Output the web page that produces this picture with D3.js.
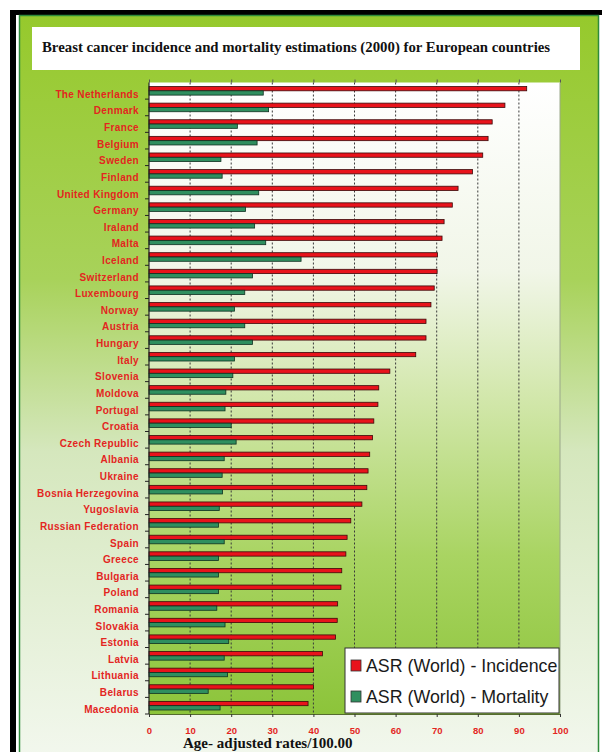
<!DOCTYPE html>
<html><head><meta charset="utf-8">
<script src="https://cdn.jsdelivr.net/npm/d3@7"></script>
<style>html,body{margin:0;padding:0;background:#fff;}svg{display:block;}</style>
</head><body>
<script>
const countries = ["The Netherlands","Denmark","France","Belgium","Sweden","Finland","United Kingdom","Germany","Iraland","Malta","Iceland","Switzerland","Luxembourg","Norway","Austria","Hungary","Italy","Slovenia","Moldova","Portugal","Croatia","Czech Republic","Albania","Ukraine","Bosnia Herzegovina","Yugoslavia","Russian Federation","Spain","Greece","Bulgaria","Poland","Romania","Slovakia","Estonia","Latvia","Lithuania","Belarus","Macedonia"];
const incidence = [91.9,86.6,83.5,82.5,81.2,78.7,75.2,73.8,71.8,71.3,70.2,70.1,69.4,68.6,67.4,67.4,64.9,58.6,55.9,55.7,54.7,54.4,53.7,53.3,53.0,51.8,49.1,48.2,47.9,46.9,46.7,45.9,45.8,45.4,42.2,40.0,40.0,38.7];
const mortality = [27.8,29.1,21.5,26.3,17.5,17.8,26.7,23.5,25.7,28.4,37.0,25.2,23.3,20.8,23.3,25.2,20.8,20.4,18.7,18.5,20.0,21.2,18.3,17.8,17.9,17.1,16.9,18.3,16.9,16.9,16.9,16.5,18.5,19.4,18.3,19.1,14.4,17.3];
const xTicks = [0,10,20,30,40,50,60,70,80,90,100];
const seriesNames = ["ASR (World) - Incidence","ASR (World) - Mortality"];
const seriesColors = ["#e8131b","#2f8f5f"];
const title = "Breast cancer incidence and mortality estimations (2000) for European countries";
const xTitle = "Age- adjusted rates/100.00";

(function(){
const W = 602, H = 752;
const svg = d3.select("body").append("svg").attr("width", W).attr("height", H);
const defs = svg.append("defs");

const g1 = defs.append("linearGradient").attr("id","panelGrad").attr("x1",0).attr("y1",0).attr("x2",0).attr("y2",1);
[[0,"#96c92c"],[0.35,"#a8d25a"],[0.58,"#d5e7bd"],[1,"#f3f8ef"]].forEach(([o,c])=>g1.append("stop").attr("offset",o).attr("stop-color",c));
const g2 = defs.append("linearGradient").attr("id","plotGrad").attr("x1",0).attr("y1",0).attr("x2",0).attr("y2",1);
[[0,"#ffffff"],[0.3,"#f1f6e8"],[0.5,"#d2e7ab"],[0.75,"#a9d462"],[1,"#8cc43a"]].forEach(([o,c])=>g2.append("stop").attr("offset",o).attr("stop-color",c));

// frame
svg.append("rect").attr("x",10).attr("y",10).attr("width",W-10).attr("height",5).attr("fill","#000");
svg.append("rect").attr("x",10).attr("y",10).attr("width",6).attr("height",H-10).attr("fill","#000");
svg.append("rect").attr("x",19.5).attr("y",15.5).attr("width",579).attr("height",H).attr("fill","url(#panelGrad)").attr("stroke","#2e8b3a").attr("stroke-width",1.5);

// title box
svg.append("rect").attr("x",32).attr("y",27).attr("width",548).attr("height",43).attr("fill","#fff");
svg.append("text").attr("x",42).attr("y",52).attr("font-family","'Liberation Serif','Times New Roman',serif")
  .attr("font-weight","bold").attr("font-size",14.8).attr("fill","#111").text(title);

const pL = 149, pR = 560, pT = 82.5, pB = 714;
const x = d3.scaleLinear().domain([0,100]).range([pL,pR]);
const y = d3.scaleBand().domain(countries).range([pT,pB]).paddingInner(0);
const sub = d3.scaleBand().domain([0,1]).range([0,y.bandwidth()]).paddingInner(0).paddingOuter(0.93);

// plot background
svg.append("rect").attr("x",pL).attr("y",pT).attr("width",pR-pL).attr("height",pB-pT).attr("fill","url(#plotGrad)");
svg.append("line").attr("x1",pR).attr("x2",pR).attr("y1",pT).attr("y2",pB).attr("stroke","#9aa88a").attr("stroke-width",1);

// gridlines
svg.append("g").selectAll("line").data(xTicks.filter(t=>t>0&&t<100)).join("line")
  .attr("x1",d=>x(d)).attr("x2",d=>x(d)).attr("y1",pT).attr("y2",pB)
  .attr("stroke","#3a3a3a").attr("stroke-width",1).attr("stroke-dasharray","2,2");

// top ticks
svg.append("g").attr("transform",`translate(0,${pT})`)
  .call(d3.axisTop(x).tickValues(xTicks).tickSize(3).tickFormat(""))
  .call(g=>g.select(".domain").remove())
  .call(g=>g.selectAll("line").attr("stroke","#555"));

// bars
const rows = countries.map((c,i)=>({c, v:[incidence[i], mortality[i]]}));
const rg = svg.append("g").selectAll("g").data(rows).join("g").attr("transform",d=>`translate(0,${y(d.c)})`);
rg.selectAll("rect").data(d=>d.v.map((v,k)=>({v,k}))).join("rect")
  .attr("x",x(0)).attr("y",d=>sub(d.k)).attr("height",sub.bandwidth())
  .attr("width",d=>x(d.v)-x(0)).attr("fill",d=>seriesColors[d.k])
  .attr("stroke",d=>d.k===0?"#3a0a0a":"#0f3020").attr("stroke-width",0.8);

// y axis
const yAxisG = svg.append("g");
yAxisG.append("line").attr("x1",pL).attr("x2",pL).attr("y1",pT).attr("y2",pB).attr("stroke","#222").attr("stroke-width",1.2);
yAxisG.selectAll("line.tk").data(countries).join("line").attr("class","tk")
  .attr("x1",pL-4).attr("x2",pL).attr("y1",d=>y(d)+y.bandwidth()).attr("y2",d=>y(d)+y.bandwidth())
  .attr("stroke","#222");
yAxisG.selectAll("text").data(countries).join("text")
  .attr("x",139).attr("y",d=>y(d)+y.bandwidth()/2+3.5).attr("dy","0.35em")
  .attr("text-anchor","end").attr("font-family","Arial,'Liberation Sans',sans-serif")
  .attr("font-weight","bold").attr("font-size",10).attr("letter-spacing",0.35).attr("fill","#e3261f").text(d=>d);

// bottom axis
svg.append("g").attr("transform",`translate(0,${pB})`)
  .call(d3.axisBottom(x).tickValues(xTicks).tickSize(3).tickPadding(10))
  .call(g=>g.select(".domain").attr("stroke","#556b2f"))
  .call(g=>g.selectAll("line").attr("stroke","#333"))
  .call(g=>g.selectAll("text").attr("font-family","Arial,'Liberation Sans',sans-serif").attr("font-weight","bold")
    .attr("font-size",9.5).attr("fill","#e3261f"));

svg.append("text").attr("x",183).attr("y",748).attr("font-family","'Liberation Serif','Times New Roman',serif")
  .attr("font-weight","bold").attr("font-size",15).attr("fill","#111").text(xTitle);

// legend
const lg = svg.append("g");
lg.append("rect").attr("x",345).attr("y",648).attr("width",214).attr("height",65).attr("fill","#fff").attr("stroke","#333").attr("stroke-width",1);
seriesNames.forEach((n,i)=>{
  const cy = 666 + i*31;
  lg.append("rect").attr("x",351).attr("y",cy-6).attr("width",10).attr("height",11).attr("fill",seriesColors[i]).attr("stroke","#333").attr("stroke-width",0.8);
  lg.append("text").attr("x",366).attr("y",cy).attr("dy","0.35em").attr("font-family","Arial,'Liberation Sans',sans-serif")
    .attr("font-size",17.8).attr("fill","#1a1a1a").text(n);
});
})();
</script>
</body></html>
